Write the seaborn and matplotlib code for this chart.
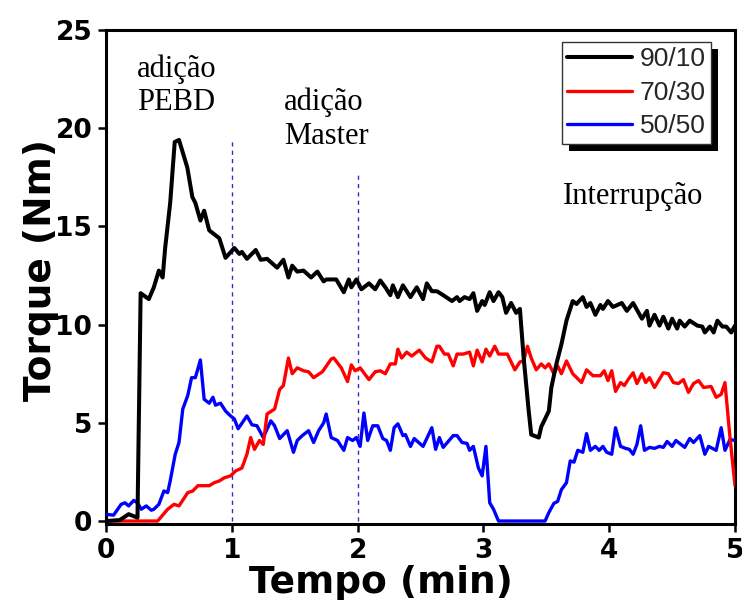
import matplotlib
matplotlib.use("Agg")
import matplotlib.pyplot as plt
import pandas as pd
import seaborn as sns
from matplotlib.patches import Rectangle
from matplotlib.lines import Line2D

# ---------------- data ----------------
labels = ["90/10", "70/30", "50/50"]
colors = ["#000000", "#ff0000", "#0000ff"]

black_x = [0.00, 0.11, 0.18, 0.25, 0.275, 0.34, 0.38, 0.42, 0.45, 0.47,
           0.51, 0.546, 0.58, 0.646, 0.686, 0.71, 0.75, 0.78, 0.82, 0.90,
           0.95, 1.02, 1.06, 1.08, 1.12, 1.19, 1.23, 1.28, 1.36, 1.41,
           1.45, 1.48, 1.52, 1.57, 1.63, 1.68, 1.73, 1.75, 1.83, 1.89,
           1.93, 1.95, 1.99, 2.03, 2.09, 2.14, 2.18, 2.22, 2.26, 2.28,
           2.32, 2.36, 2.42, 2.47, 2.52, 2.55, 2.59, 2.63, 2.68, 2.75,
           2.79, 2.81, 2.85, 2.89, 2.92, 2.95, 2.99, 3.01, 3.05, 3.08,
           3.12, 3.15, 3.18, 3.22, 3.26, 3.29, 3.32, 3.36, 3.38, 3.44,
           3.46, 3.52, 3.54, 3.58, 3.62, 3.66, 3.71, 3.74, 3.79, 3.82,
           3.85, 3.89, 3.93, 3.95, 3.99, 4.03, 4.10, 4.14, 4.19, 4.26,
           4.30, 4.32, 4.36, 4.40, 4.43, 4.47, 4.50, 4.54, 4.56, 4.60,
           4.64, 4.70, 4.74, 4.76, 4.80, 4.83, 4.86, 4.90, 4.93, 4.97, 5.00]
black_y = [0.0, 0.05, 0.35, 0.17, 11.6, 11.3, 11.9, 12.75, 12.4, 13.9,
           16.2, 19.3, 19.4, 18.0, 16.5, 16.2, 15.3, 15.8, 14.8, 14.4,
           13.4, 13.9, 13.6, 13.7, 13.35, 13.8, 13.3, 13.35, 12.9, 13.3,
           12.4, 13.0, 12.7, 12.75, 12.4, 12.7, 12.2, 12.3, 12.3, 11.65,
           12.3, 11.9, 12.3, 11.8, 12.1, 11.8, 12.25, 11.9, 11.5, 12.0,
           11.4, 12.0, 11.4, 11.9, 11.3, 12.1, 11.7, 11.7, 11.5, 11.2,
           11.4, 11.2, 11.4, 11.3, 11.6, 10.7, 11.2, 11.0, 11.65, 11.2,
           11.65, 11.4, 10.6, 11.1, 10.6, 10.8, 8.3, 5.6, 4.4, 4.25,
           4.8, 5.6, 6.8, 8.0, 9.0, 10.2, 11.2, 11.05, 11.4, 10.9,
           11.1, 10.5, 11.0, 10.8, 11.2, 10.9, 11.1, 10.7, 11.1, 10.3,
           10.7, 9.95, 10.5, 9.95, 10.4, 9.8, 10.3, 9.8, 10.2, 9.9,
           10.2, 9.95, 9.9, 9.6, 9.9, 9.6, 10.2, 9.9, 9.9, 9.6, 9.95]

red_x = [0.00, 0.41, 0.49, 0.54, 0.58, 0.65, 0.69, 0.73, 0.82, 0.86,
         0.90, 0.94, 0.99, 1.03, 1.08, 1.12, 1.15, 1.18, 1.22, 1.25,
         1.28, 1.34, 1.38, 1.41, 1.45, 1.48, 1.52, 1.57, 1.61, 1.65,
         1.72, 1.79, 1.81, 1.87, 1.92, 1.95, 1.98, 2.02, 2.09, 2.14,
         2.18, 2.22, 2.26, 2.30, 2.32, 2.35, 2.39, 2.43, 2.49, 2.54,
         2.59, 2.63, 2.65, 2.69, 2.72, 2.76, 2.79, 2.84, 2.89, 2.92,
         2.95, 2.99, 3.02, 3.05, 3.09, 3.12, 3.19, 3.25, 3.29, 3.32,
         3.35, 3.38, 3.42, 3.46, 3.49, 3.52, 3.56, 3.59, 3.62, 3.66,
         3.71, 3.78, 3.82, 3.87, 3.93, 3.96, 3.99, 4.02, 4.05, 4.09,
         4.12, 4.15, 4.19, 4.22, 4.26, 4.29, 4.32, 4.36, 4.43, 4.47,
         4.51, 4.55, 4.59, 4.63, 4.67, 4.71, 4.75, 4.81, 4.85, 4.89,
         4.92, 4.96, 5.00]
red_y = [0.0, 0.0, 0.6, 0.85, 0.77, 1.45, 1.53, 1.8, 1.8, 1.95,
         2.04, 2.2, 2.3, 2.55, 2.7, 3.4, 4.25, 3.65, 4.1, 3.9,
         5.45, 5.7, 6.7, 6.9, 8.3, 7.5, 7.8, 7.65, 7.6, 7.3,
         7.6, 8.25, 8.3, 7.8, 7.1, 7.95, 7.65, 7.8, 7.2, 7.6,
         7.65, 7.5, 8.0, 8.0, 8.75, 8.3, 8.6, 8.4, 8.7, 8.3,
         8.1, 8.9, 8.9, 8.5, 8.5, 7.9, 8.5, 8.5, 8.6, 7.9,
         8.7, 8.1, 8.75, 8.4, 8.9, 8.5, 8.5, 7.7, 8.1, 8.15,
         8.9, 8.3, 7.7, 8.0, 7.8, 8.0, 7.5, 7.9, 7.5, 8.15,
         7.5, 7.05, 7.7, 7.4, 7.4, 7.65, 7.15, 7.65, 6.6, 7.05,
         6.9, 7.2, 7.55, 7.0, 7.5, 7.05, 7.3, 6.8, 7.55, 7.5,
         7.05, 7.0, 7.2, 6.55, 7.0, 7.15, 6.8, 6.85, 6.3, 6.45,
         7.05, 4.25, 1.8]

blue_x = [0.00, 0.06, 0.12, 0.15, 0.18, 0.22, 0.25, 0.28, 0.32, 0.36,
          0.38, 0.42, 0.46, 0.49, 0.51, 0.55, 0.58, 0.61, 0.65, 0.68,
          0.71, 0.75, 0.78, 0.82, 0.85, 0.87, 0.91, 0.95, 0.99, 1.02,
          1.05, 1.12, 1.16, 1.20, 1.25, 1.31, 1.34, 1.38, 1.44, 1.49,
          1.52, 1.56, 1.61, 1.65, 1.69, 1.73, 1.75, 1.79, 1.84, 1.89,
          1.92, 1.96, 1.99, 2.02, 2.05, 2.08, 2.12, 2.16, 2.20, 2.23,
          2.26, 2.29, 2.32, 2.36, 2.38, 2.42, 2.45, 2.52, 2.59, 2.62,
          2.65, 2.68, 2.76, 2.79, 2.83, 2.87, 2.89, 2.92, 2.96, 2.99,
          3.02, 3.05, 3.08, 3.12, 3.49, 3.52, 3.56, 3.59, 3.62, 3.66,
          3.69, 3.72, 3.75, 3.79, 3.82, 3.85, 3.89, 3.92, 3.95, 3.98,
          4.02, 4.05, 4.09, 4.13, 4.16, 4.19, 4.22, 4.25, 4.28, 4.32,
          4.36, 4.40, 4.43, 4.46, 4.50, 4.53, 4.56, 4.60, 4.64, 4.67,
          4.72, 4.76, 4.79, 4.85, 4.89, 4.92, 4.96, 5.00]
blue_y = [0.34, 0.3, 0.85, 0.93, 0.77, 1.05, 0.93, 0.6, 0.77, 0.55,
          0.6, 0.85, 1.53, 1.45, 2.04, 3.4, 4.0, 5.7, 6.4, 7.3,
          7.3, 8.2, 6.2, 6.0, 6.3, 5.9, 6.0, 5.6, 5.35, 5.2,
          4.7, 5.35, 4.9, 4.85, 4.25, 5.1, 4.85, 4.2, 4.6, 3.5,
          4.1, 4.35, 4.6, 4.0, 4.6, 5.0, 5.45, 4.25, 4.1, 3.6,
          4.25, 4.1, 4.25, 3.8, 5.5, 4.1, 4.85, 4.85, 4.2, 4.1,
          3.6, 4.75, 4.95, 4.35, 4.4, 3.8, 4.2, 3.8, 4.75, 3.65,
          4.25, 3.75, 4.35, 4.35, 4.0, 3.95, 3.6, 3.8, 2.7, 2.3,
          3.8, 0.93, 0.6, 0.0, 0.0, 0.43, 0.9, 1.0, 1.6, 1.95,
          3.06, 3.0, 3.6, 3.5, 4.45, 3.6, 3.8, 3.6, 3.8, 3.5,
          3.4, 4.75, 3.8, 3.7, 3.65, 3.4, 3.9, 4.85, 3.6, 3.75,
          3.7, 3.8, 3.75, 4.05, 3.8, 4.1, 3.95, 3.75, 4.2, 4.0,
          4.35, 3.4, 3.8, 3.6, 4.75, 3.6, 4.15, 4.1]

marker_x = [1.0, 2.0]          # dotted lines (additions)
marker_top = [19.4, 17.75]

x_ticks = [0, 1, 2, 3, 4, 5]
y_ticks = [0, 5, 10, 15, 20, 25]

# ---------------- figure ----------------
sns.set_theme(style="white")
plt.rcParams["font.family"] = ["DejaVu Sans"]

fig = plt.figure(figsize=(7.42, 6.0), dpi=100)
ax = fig.add_axes([0.1429, 0.1267, 0.8477, 0.8233])

series = {
    "90/10": (black_x, black_y),
    "70/30": (red_x, red_y),
    "50/50": (blue_x, blue_y),
}
lws = {"90/10": 2.9, "70/30": 2.4, "50/50": 2.4}
draw_order = ["50/50", "70/30", "90/10"]
for name in draw_order:
    xs, ys = series[name]
    df = pd.DataFrame({"Tempo": xs, "Torque": ys})
    sns.lineplot(data=df, x="Tempo", y="Torque", ax=ax,
                 color=colors[labels.index(name)], lw=lws[name],
                 estimator=None, sort=False, legend=False, zorder=3)

ax.vlines(marker_x, 0, marker_top, colors="#3030c0", linestyles=(0, (3, 3)),
          lw=1.0, zorder=2)

ax.set_xlim(0, 5)
ax.set_ylim(-0.15, 25)
ax.set_xticks(x_ticks)
ax.set_yticks(y_ticks)
ax.set_xticklabels([str(t) for t in x_ticks])
ax.set_yticklabels([str(t) for t in y_ticks])

for sp in ax.spines.values():
    sp.set_visible(True)
    sp.set_color("black")
    sp.set_linewidth(2.2)

ax.tick_params(axis="both", which="major", direction="out", length=6,
               width=1.8, color="black", labelsize=19, pad=4,
               bottom=True, left=True, top=False, right=False)
for lab in ax.get_xticklabels() + ax.get_yticklabels():
    lab.set_fontweight("bold")
    lab.set_color("black")

ax.set_xlabel("Tempo (min)", fontsize=27, fontweight="bold", color="black")
ax.set_ylabel("Torque (Nm)", fontsize=27, fontweight="bold", color="black")
ax.xaxis.set_label_coords(0.437, -0.083)
ax.yaxis.set_label_coords(-0.075, 0.514)

# annotations
serif = ["Liberation Serif", "DejaVu Serif"]
ax.text(0.246, 23.75, "adição\nPEBD", fontsize=22, family=serif,
        ha="left", va="top", linespacing=1.2, color="black")
ax.text(1.415, 22.05, "adição\nMaster", fontsize=22, family=serif,
        ha="left", va="top", linespacing=1.2, color="black")
ax.text(3.63, 17.25, "Interrupção", fontsize=22, family=serif,
        ha="left", va="top", color="black")

# legend
handles = [Line2D([], [], color=c, lw=lws[l]) for l, c in zip(labels, colors)]
leg = ax.legend(handles, labels, loc="upper right",
                bbox_to_anchor=(0.962, 0.9755), borderaxespad=0,
                prop={"family": ["Liberation Sans", "DejaVu Sans"], "size": 19},
                handlelength=2.45, handletextpad=0.3, labelspacing=0.36,
                borderpad=0.2, frameon=True, fancybox=False,
                framealpha=1, edgecolor="#333333")
leg.get_frame().set_linewidth(1.0)
leg.set_zorder(6)

fig.canvas.draw()
bb = leg.get_window_extent()
inv = fig.transFigure.inverted()
(x0, y0) = inv.transform((bb.x0 + 7, bb.y0 - 7))
(x1, y1) = inv.transform((bb.x1 + 7, bb.y1 - 7))
shadow = Rectangle((x0, y0), x1 - x0, y1 - y0, transform=fig.transFigure,
                   facecolor="black", edgecolor="none", zorder=5.5,
                   clip_on=False)
ax.add_artist(shadow)

fig.savefig("out.png", dpi=100)
